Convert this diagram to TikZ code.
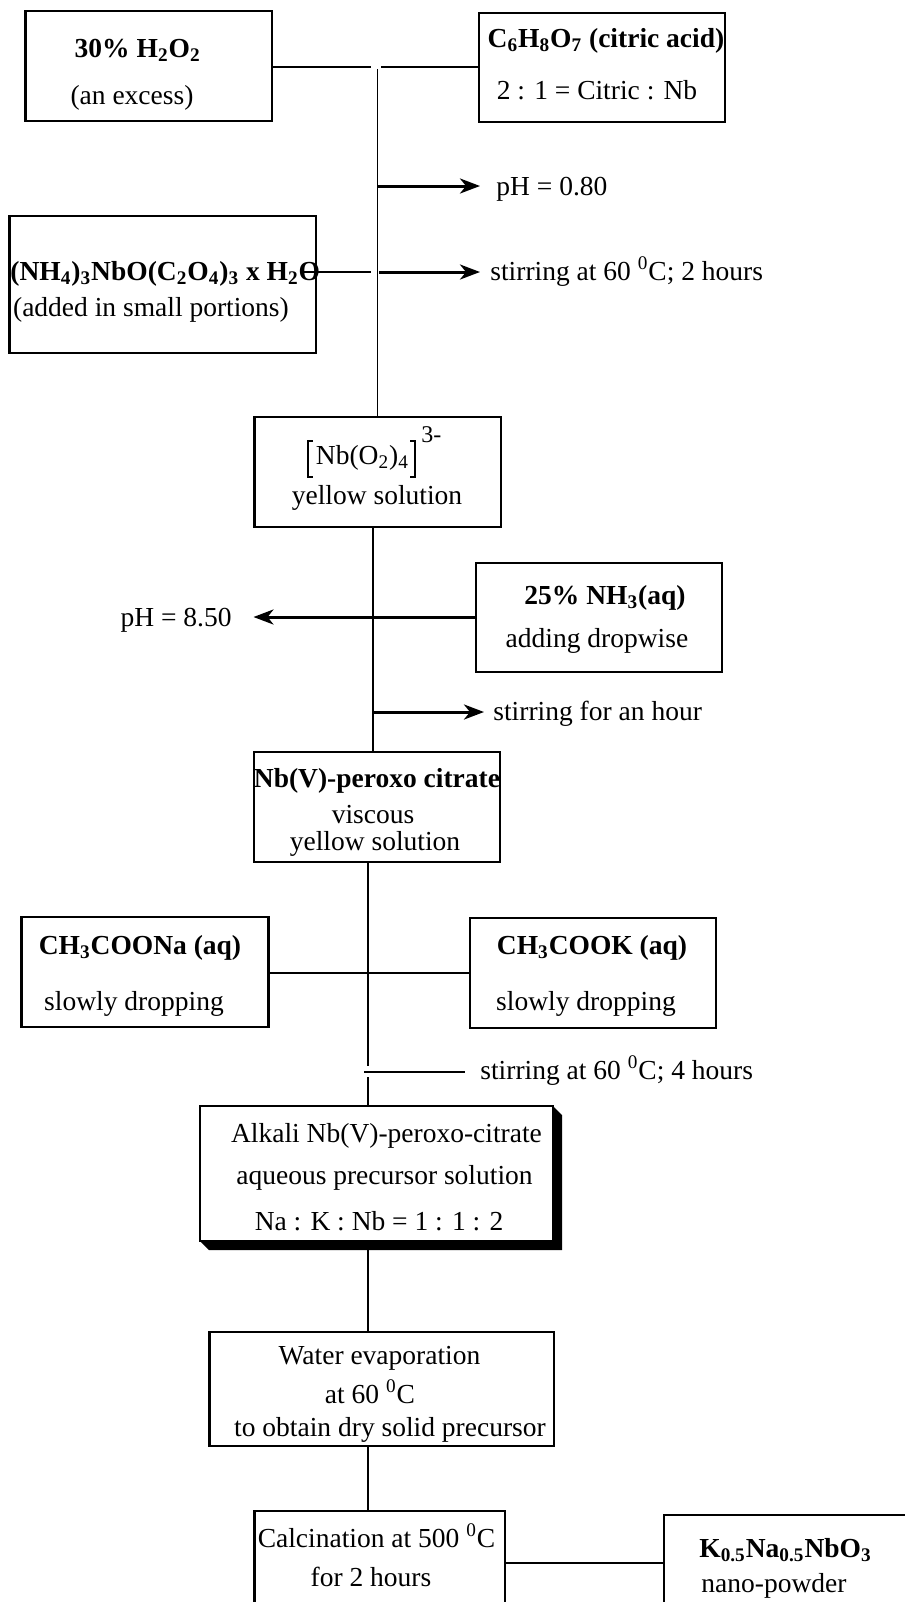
\documentclass[tikz,border=0pt]{standalone}
\usepackage{fontspec}
\setmainfont{Liberation Serif}
\usetikzlibrary{arrows.meta}
\newcommand\mkbox[5]{%
  \pgfmathsetmacro\mybw{(#4-#2)*0.5}%
  \pgfmathsetmacro\mybh{(#5-#3)*0.5}%
  \node[box,minimum width=\mybw pt,minimum height=\mybh pt] (#1) at ({(#2+#4)/2},{(#3+#5)/2}) {};}
\begin{document}
\begin{tikzpicture}[x=0.5pt,y=-0.5pt,
  box/.style={draw,line width=1.1pt,fill=white,inner sep=0pt,outer sep=0pt},
  txt/.style={inner sep=0pt,font=\fontsize{13.75}{16}\selectfont,anchor=base},
  conn/.style={line width=0.9pt},
  brk/.style={line width=0.7pt},
  arr/.style={line width=1.5pt,-{Stealth[length=10pt,width=7.5pt,inset=3pt]}}]
\useasboundingbox (0,0) rectangle (905,1602);
\clip (0,0) rectangle (905,1602);

% boxes
\mkbox{h2o2}{25.5}{11}{272}{121}
\mkbox{citric}{479}{13}{725}{122}
\mkbox{nh4}{9.5}{216}{316}{353}
\mkbox{nbo}{254.5}{417}{501}{527}
\mkbox{nh3}{476}{563}{722}{672}
\mkbox{nbv}{254}{752}{500}{862}
\mkbox{na}{21.5}{917}{268.5}{1027}
\mkbox{k}{470}{918}{716}{1028}
\mkbox{alk}{200}{1106}{553}{1241}
\fill (alk.north east) -- ++(9,9) -- ([shift={(9,9)}]alk.south east)
  -- ([shift={(9,9)}]alk.south west) -- (alk.south west) -- (alk.south east) -- cycle;
\mkbox{water}{209.5}{1332}{554}{1446}
\mkbox{calc}{254.5}{1511}{505}{1660}
\mkbox{knn}{664}{1515}{960}{1660}

% texts
\node[txt] (t1a) at (137.7,57) {\textbf{30\% H\textsubscript{2}O\textsubscript{2}}};
\node[txt] (t1b) at (132,104) {(an excess)};
\node[txt] (t2a) at (606,47) {\textbf{C\textsubscript{6}H\textsubscript{8}O\textsubscript{7} (citric acid)}};
\node[txt] (t2b) at (597,99) {2 : 1 = Citric : Nb};
\node[txt,anchor=base west] (ph1) at (496,195) {pH = 0.80};
\node[txt,anchor=base west] (t3a) at (10,280) {\textbf{(NH\textsubscript{4})\textsubscript{3}NbO(C\textsubscript{2}O\textsubscript{4})\textsubscript{3} x H\textsubscript{2}O}};
\node[txt,anchor=base west] (t3b) at (12.7,316) {(added in small portions)};
\node[txt,anchor=base west] (st1) at (490,280) {stirring at 60 \textsuperscript{0}C; 2 hours};
\node[txt] (t4a) at (362.5,464) {Nb(O\textsubscript{2})\textsubscript{4}};
\node[txt,anchor=base west] (t4s) at (421,442) {\fontsize{12}{13}\selectfont 3-};
\draw[brk] (313,441) -- (308,441) -- (308,477) -- (313,477);
\draw[brk] (410,441) -- (415,441) -- (415,477) -- (410,477);
\node[txt] (t4b) at (377,504) {yellow solution};
\node[txt] (t5a) at (605,604) {\textbf{25\% NH\textsubscript{3}(aq)}};
\node[txt] (t5b) at (597,647) {adding dropwise};
\node[txt,anchor=base east] (ph2) at (232,626) {pH = 8.50};
\node[txt,anchor=base west] (st2) at (493,720) {stirring for an hour};
\node[txt] (t6a) at (377,787) {\textbf{Nb(V)-peroxo citrate}};
\node[txt] (t6b) at (373,823) {viscous};
\node[txt] (t6c) at (375,850) {yellow solution};
\node[txt] (t7a) at (140,954) {\textbf{CH\textsubscript{3}COONa (aq)}};
\node[txt] (t7b) at (134,1010) {slowly dropping};
\node[txt] (t8a) at (592,954) {\textbf{CH\textsubscript{3}COOK (aq)}};
\node[txt] (t8b) at (586,1010) {slowly dropping};
\node[txt,anchor=base west] (st3) at (480,1079) {stirring at 60 \textsuperscript{0}C; 4 hours};
\node[txt] (t9a) at (386.5,1142) {Alkali Nb(V)-peroxo-citrate};
\node[txt] (t9b) at (384.5,1184) {aqueous precursor solution};
\node[txt] (t9c) at (379,1230) {Na : K : Nb = 1 : 1 : 2};
\node[txt] (t10a) at (379.5,1364) {Water evaporation};
\node[txt] (t10b) at (370,1403) {at 60 \textsuperscript{0}C};
\node[txt] (t10c) at (390,1436) {to obtain dry solid precursor};
\node[txt] (t11a) at (376.5,1547) {Calcination at 500 \textsuperscript{0}C};
\node[txt] (t11b) at (371,1586) {for 2 hours};
\node[txt,anchor=base west] (t12a) at (699,1557) {\textbf{K\textsubscript{0.5}Na\textsubscript{0.5}NbO\textsubscript{3}}};
\node[txt,anchor=base west] (t12b) at (701,1592) {nano-powder};

% junction coordinates
\coordinate (j1L) at (371,67);
\coordinate (j1R) at (381,67);
\coordinate (tr1) at (377.5,69);
\coordinate (a1) at (378,186);
\coordinate (j2L) at (371,272);
\coordinate (a2) at (379,272);
\coordinate (tr2) at (373,600);
\coordinate (a3) at (373,712);
\coordinate (tr3) at (368,1000);
\coordinate (g1) at (368,1066);
\coordinate (g2) at (368,1077);
\coordinate (h1) at (364,1072);
\coordinate (s1) at (368,1250);
\coordinate (j5) at (505,1563);

% connectors
\draw[conn] (h2o2.east |- j1L) -- (j1L);
\draw[conn] (j1R) -- (j1R -| citric.west);
\draw[conn] (tr1) -- (tr1 |- nbo.north);
\draw[arr,shorten >=8pt] (a1) -- (a1 -| ph1.west);
\draw[conn] ([xshift=-7pt]nh4.east |- j2L) -- (j2L);
\draw[arr,shorten >=5pt] (a2) -- (a2 -| st1.west);
\draw[conn] (nbo.south -| tr2) -- (nbv.north -| tr2);
\draw[arr,shorten >=10.75pt] (nh3.west |- 0,617) -- (ph2.east |- 0,617);
\draw[arr,shorten >=4.5pt] (a3) -- (a3 -| st2.west);
\draw[conn] (nbv.south -| tr3) -- (g1);
\draw[conn] (na.east |- 0,973) -- (k.west |- 0,973);
\draw[conn,shorten >=7.5pt] (h1) -- (h1 -| st3.west);
\draw[conn] (g2) -- (alk.north -| g2);
\draw[conn] (s1) -- (s1 |- water.north);
\draw[conn] (water.south -| s1) -- (calc.north -| s1);
\draw[conn] (j5) -- (j5 -| knn.west);
\end{tikzpicture}
\end{document}
